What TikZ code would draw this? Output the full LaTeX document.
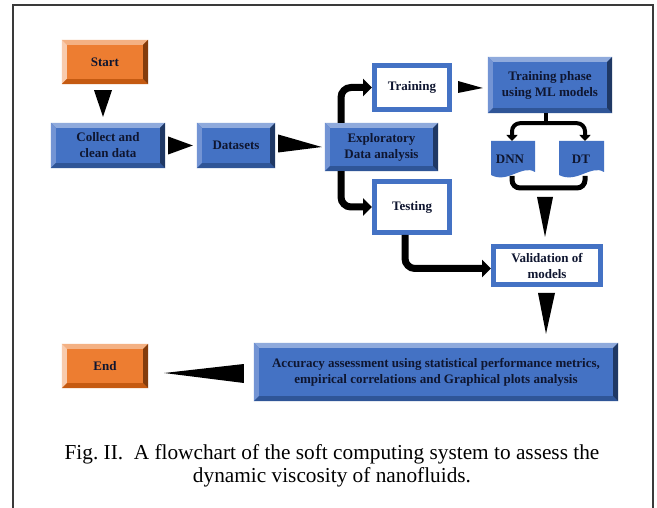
\documentclass[tikz,border=0pt]{standalone}
\usepackage{fontspec}
\setmainfont{Liberation Serif}
\usetikzlibrary{arrows.meta,calc}
\definecolor{bface}{HTML}{4472C4}
\definecolor{btop}{HTML}{8FAADC}
\definecolor{bleft}{HTML}{7394D4}
\definecolor{bbot}{HTML}{2F5597}
\definecolor{bright}{HTML}{1F3864}
\definecolor{oface}{HTML}{ED7D31}
\definecolor{otop}{HTML}{F4B183}
\definecolor{oleft}{HTML}{F8CBAD}
\definecolor{obot}{HTML}{C55A11}
\definecolor{oright}{HTML}{843C0C}
\definecolor{txt}{HTML}{0F1630}
\definecolor{framec}{HTML}{3A3A3A}
\newcommand\boxfont{\fontsize{13}{16}\selectfont\bfseries}
\newcommand\bevelit[6]{%
 \fill[#2] (#1.north west) -- (#1.north east) -- ([shift={(-#6pt,-#6pt)}]#1.north east) -- ([shift={(#6pt,-#6pt)}]#1.north west) -- cycle;
 \fill[#3] (#1.north west) -- ([shift={(#6pt,-#6pt)}]#1.north west) -- ([shift={(#6pt,#6pt)}]#1.south west) -- (#1.south west) -- cycle;
 \fill[#4] (#1.south west) -- ([shift={(#6pt,#6pt)}]#1.south west) -- ([shift={(-#6pt,#6pt)}]#1.south east) -- (#1.south east) -- cycle;
 \fill[#5] (#1.south east) -- ([shift={(-#6pt,#6pt)}]#1.south east) -- ([shift={(-#6pt,-#6pt)}]#1.north east) -- (#1.north east) -- cycle;}
\newcommand\bluebev[1]{\bevelit{#1}{btop}{bleft}{bbot}{bright}{5}}
\newcommand\orangebev[1]{\bevelit{#1}{otop}{oleft}{obot}{oright}{5}}
\begin{document}
\begin{tikzpicture}[x=1pt,y=-1pt,
  bluebox/.style={fill=bface, inner sep=0pt, align=center, font=\boxfont, text=txt},
  orangebox/.style={fill=oface, inner sep=0pt, align=center, font=\boxfont, text=txt},
  whitebox/.style={fill=white, draw=bface, line width=5pt, inner sep=0pt, align=center, font=\boxfont, text=txt},
  fatarrow/.style={line width=7pt, rounded corners=10pt, -{Triangle[length=9pt,width=17pt]}},
  branch/.style={line width=4pt, rounded corners=8pt, -{Triangle[length=6pt,width=11pt]}},
  wedge/.style={fill=black},
  docshape/.style={fill=bface}]
\useasboundingbox (0,0) rectangle (657,508);
\fill[white] (0,0) rectangle (657,508);
\draw[framec, line width=1.5pt] (13,508) -- (13,5) -- (653,5) -- (653,508);

% nodes
\node[orangebox, minimum width=86pt, minimum height=44pt] (start) at (105,62) {};
\orangebev{start}
\node[font=\boxfont, text=txt] at (start) {Start};

\node[bluebox, minimum width=114pt, minimum height=45pt] (collect) at (108,145.5) {};
\bluebev{collect}
\node[font=\boxfont, text=txt, align=center] at (collect) {Collect and\\clean data};

\node[bluebox, minimum width=78pt, minimum height=45pt] (datasets) at (236,145.5) {};
\bluebev{datasets}
\node[font=\boxfont, text=txt] at (datasets) {Datasets};

\node[bluebox, minimum width=113pt, minimum height=48pt] (eda) at (381.5,147) {};
\bluebev{eda}
\node[font=\boxfont, text=txt, align=center] at (eda) {Exploratory\\Data analysis};

\node[whitebox, minimum width=75pt, minimum height=44pt] (training) at (412,87.5) {Training};

\node[bluebox, minimum width=124pt, minimum height=56pt] (phase) at (550,85) {};
\bluebev{phase}
\node[font=\boxfont, text=txt, align=center] at (phase) {Training phase\\using ML models};

\node[whitebox, minimum width=75pt, minimum height=51pt] (testing) at (412,207) {Testing};

\node[whitebox, minimum width=107pt, minimum height=38pt] (validation) at (547,265.5) {Validation of\\models};

\node[bluebox, minimum width=364pt, minimum height=58pt] (accuracy) at (436,372) {};
\bluebev{accuracy}
\node[font=\boxfont, text=txt, align=center] at (accuracy) {Accuracy assessment using statistical performance metrics,\\empirical correlations and Graphical plots analysis};

\node[orangebox, minimum width=86pt, minimum height=44pt] (end) at (105,366) {};
\orangebev{end}
\node[font=\boxfont, text=txt] at (end) {End};

% bracket under DNN / DT
\coordinate (bl) at (512,176);
\coordinate (br) at (585,176);
\coordinate (bm) at (548.5,188);
\draw[line width=5pt, rounded corners=8pt] (bl) |- (bm) -| (br);

% document shapes
\fill[docshape] (491,141) -- (535,141) -- (535,172) .. controls (522,164) and (508,184) .. (491,175) -- cycle;
\node[font=\boxfont, text=txt] (dnn) at (510,159) {DNN};
\coordinate (dnntop) at (512,141);
\fill[docshape] (559,141) -- (604,141) -- (604,172) .. controls (591,164) and (577,184) .. (559,175) -- cycle;
\node[font=\boxfont, text=txt] (dt) at (581,159) {DT};
\coordinate (dttop) at (585,141);

% branch from training phase
\coordinate (ph) at ([xshift=-4pt]phase.south);
\coordinate (pj) at ([shift={(-4pt,-10pt)}]phase.south);
\draw[line width=4pt] (ph) -- ([yshift=-2pt]pj);
\draw[branch] (pj) -| (dnntop);
\draw[branch] (pj) -| (dttop);

% curved arrows
\draw[fatarrow] ([xshift=-40.5pt]eda.north) |- (training.west);
\draw[fatarrow] ([xshift=-40.5pt]eda.south) |- (testing.west);
\draw[fatarrow] ([xshift=-7pt]testing.south) |- ([yshift=-3pt]validation.west);

% wedge arrows
\fill[wedge] ([shift={(-11pt,-6pt)}]start.south) -- ([shift={(7pt,-6pt)}]start.south) -- ([shift={(-5pt,6pt)}]collect.north) -- cycle;
\fill[wedge] ([shift={(3pt,-9pt)}]collect.east) -- ([shift={(3pt,9pt)}]collect.east) -- ([xshift=-4pt]datasets.west) -- cycle;
\fill[wedge] ([shift={(3pt,-7pt)}]datasets.east) -- ([shift={(3pt,11pt)}]datasets.east) -- ([xshift=-3pt]eda.west) -- cycle;
\fill[wedge] ([shift={(6pt,-5.5pt)}]training.east) -- ([shift={(6pt,6.5pt)}]training.east) -- ([shift={(-5pt,-3pt)}]phase.west) -- cycle;
\fill[wedge] ([shift={(-11.5pt,-9pt)}]bm) -- ([shift={(4.5pt,-9pt)}]bm) -- ([shift={(-2pt,7pt)}]validation.north) -- cycle;
\fill[wedge] ([shift={(-9pt,-6pt)}]validation.south) -- ([shift={(8pt,-6pt)}]validation.south) -- ([shift={(-1pt,9pt)}]validation.south |- accuracy.north) -- cycle;
\fill[wedge] ([shift={(-10pt,8pt)}]accuracy.west) -- ([shift={(-10pt,-11pt)}]accuracy.west) -- ([shift={(16pt,-7pt)}]end.east) -- cycle;

% caption
\node[font=\fontsize{21.3}{23.5}\selectfont, align=center, text=black] (cap) at (332,466)
 {Fig.~II.\ \ A flowchart of the soft computing system to assess the\\dynamic viscosity of nanofluids.};
\end{tikzpicture}
\end{document}
